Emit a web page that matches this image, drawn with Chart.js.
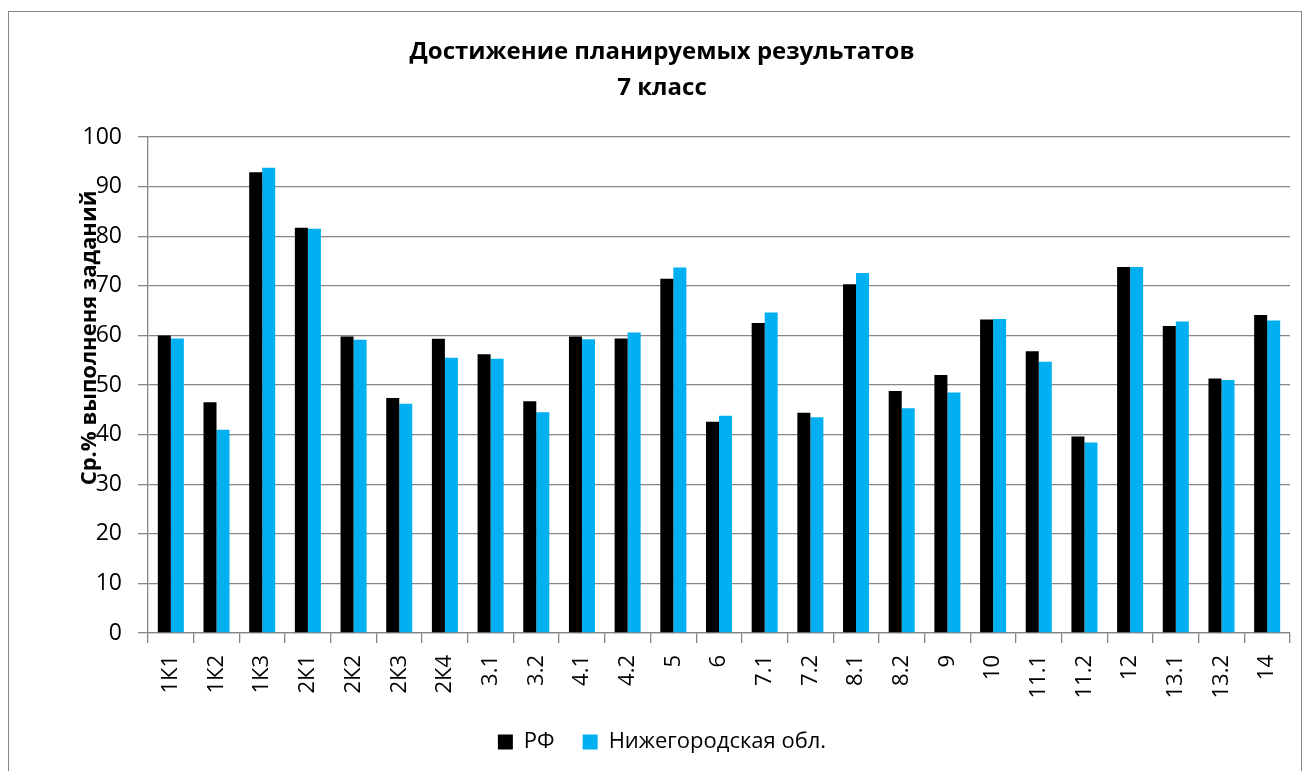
<!DOCTYPE html>
<html>
<head>
<meta charset="utf-8">
<script src="https://cdn.jsdelivr.net/npm/chart.js@4.4.1/dist/chart.umd.min.js"></script>
<style>
  body { margin: 0; background: #fff; }
  #frame { position: absolute; left: 8px; top: 11px; width: 1292px; height: 800px; border: 1px solid #878787; }
  #wrap { position: absolute; left: 0; top: 0; width: 1309px; height: 771px; }
</style>
</head>
<body>
<div id="frame"></div>
<div id="wrap"><canvas id="chart" width="1309" height="771"></canvas></div>
<script>
// категории заданий
const categories = ['1К1', '1К2', '1К3', '2К1', '2К2', '2К3', '2К4', '3.1', '3.2', '4.1', '4.2', '5', '6',
  '7.1', '7.2', '8.1', '8.2', '9', '10', '11.1', '11.2', '12', '13.1', '13.2', '14'];

// РФ
const rfValues = [60.0, 46.5, 92.9, 81.7, 59.8, 47.4, 59.3, 56.2, 46.7, 59.8, 59.4, 71.4, 42.6,
  62.5, 44.4, 70.3, 48.8, 52.0, 63.2, 56.8, 39.6, 73.8, 61.9, 51.3, 64.1];

// Нижегородская обл.
const nnValues = [59.4, 41.0, 93.8, 81.5, 59.1, 46.2, 55.5, 55.3, 44.5, 59.2, 60.6, 73.7, 43.8,
  64.6, 43.5, 72.6, 45.3, 48.5, 63.3, 54.7, 38.4, 73.8, 62.8, 51.0, 63.0];

const seriesNames = ['РФ', 'Нижегородская обл.'];
const titleLines = ['Достижение планируемых результатов', '7 класс'];
const yTitle = 'Ср.% выполненя заданий';

const GRID = '#868686';
const FONT = "'Open Sans', 'DejaVu Sans', sans-serif";

// подпись оси Y поверх меток, как в оригинале
const yTitlePlugin = {
  id: 'yTitle',
  afterDraw(chart) {
    const ctx = chart.ctx;
    const area = chart.chartArea;
    ctx.save();
    ctx.translate(90, area.top + (area.bottom - area.top) * 0.405);
    ctx.rotate(-Math.PI / 2);
    ctx.font = 'bold 22px ' + FONT;
    ctx.fillStyle = '#000';
    ctx.textAlign = 'center';
    ctx.textBaseline = 'middle';
    ctx.fillText(yTitle, 0, 0);
    ctx.restore();
  }
};

new Chart(document.getElementById('chart'), {
  type: 'bar',
  data: {
    labels: categories,
    datasets: [
      { label: seriesNames[0], data: rfValues, backgroundColor: '#000000' },
      { label: seriesNames[1], data: nnValues, backgroundColor: '#00B0F0' }
    ]
  },
  options: {
    responsive: false,
    animation: false,
    layout: { padding: { left: 34, right: 19, top: 0, bottom: 8 } },
    datasets: { bar: { categoryPercentage: 0.57, barPercentage: 1.0 } },
    scales: {
      x: {
        grid: { drawOnChartArea: false, drawTicks: true, tickLength: 10, color: GRID, lineWidth: 1.3 },
        border: { color: GRID, width: 1.3 },
        ticks: { color: '#000', font: { family: FONT, size: 22 }, minRotation: 90, maxRotation: 90, padding: 12, autoSkip: false },
        afterFit(s) { s.height = 70; }
      },
      y: {
        min: 0,
        max: 100,
        grid: { color: GRID, lineWidth: 1.3, tickLength: 10 },
        border: { color: GRID, width: 1.3 },
        ticks: { stepSize: 10, color: '#000', font: { family: FONT, size: 23 }, padding: 16 },
        afterFit(s) { s.width = 114; }
      }
    },
    plugins: {
      title: {
        display: true,
        text: titleLines,
        color: '#000',
        font: { family: FONT, size: 24, weight: 'bold', lineHeight: 1.5 },
        padding: { top: 34, bottom: 31 }
      },
      legend: {
        position: 'bottom',
        labels: { color: '#000', font: { family: FONT, size: 22 }, boxWidth: 15, boxHeight: 15, padding: 28 }
      },
      tooltip: { enabled: false }
    }
  },
  plugins: [yTitlePlugin]
});
</script>
</body>
</html>
